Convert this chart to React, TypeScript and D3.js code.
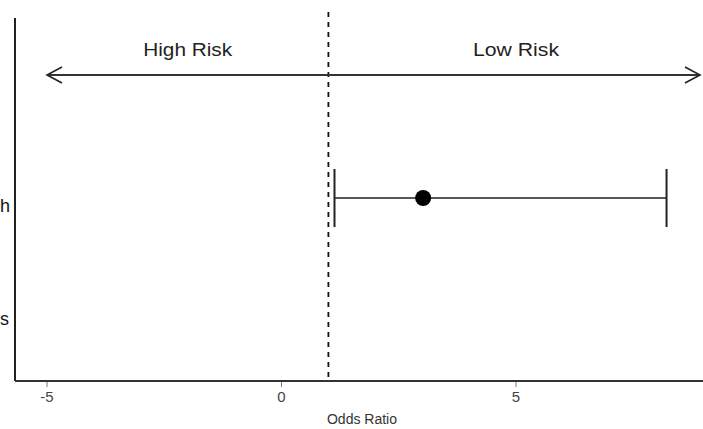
import * as d3 from "d3"
import React, { useRef, useEffect } from 'react';

// forest plot data
const categories = ["h", "s"];
const estimates = [3.02, NaN];
const lowers = [1.13, NaN];
const uppers = [8.21, NaN];
const xTicks = [-5, 0, 5];
const refLine = 1;
const riskLabels = ["High Risk", "Low Risk"];
const riskCenters = [-2, 5];

const App: React.FC = () => {
    const svgRef = useRef<SVGSVGElement | null>(null);
    useEffect(() => {
        const width = 703;
        const height = 429;
        const l = 15;
        const t = 18;
        const b = 381;
        const svg = d3.select(svgRef.current).attr('width', width).attr('height', height);
        svg.selectAll('*').remove();
        svg.append('rect').attr('width', width).attr('height', height).attr('fill', '#fff');

        const x = d3.scaleLinear().domain([-5, 5]).range([47, 516]);
        const y = d3.scalePoint().domain(categories).range([205, 318]);
        const font = 'Liberation Sans, Arial, sans-serif';

        // axes
        svg.append('line').attr('x1', l).attr('x2', l).attr('y1', t).attr('y2', b)
            .attr('stroke', '#222').attr('stroke-width', 2);
        svg.append('line').attr('x1', l).attr('x2', width).attr('y1', b).attr('y2', b)
            .attr('stroke', '#333').attr('stroke-width', 2);

        const ticks = svg.append('g');
        ticks.selectAll('line').data(xTicks).enter().append('line')
            .attr('x1', (d) => x(d)).attr('x2', (d) => x(d))
            .attr('y1', b + 1).attr('y2', b + 6).attr('stroke', '#777');
        ticks.selectAll('text').data(xTicks).enter().append('text')
            .attr('x', (d) => x(d)).attr('y', b + 21)
            .attr('text-anchor', 'middle').attr('font-family', font)
            .attr('font-size', 15).attr('fill', '#444').text((d) => d);
        svg.append('text').attr('x', 362).attr('y', 424).attr('text-anchor', 'middle')
            .attr('font-family', font).attr('font-size', 14).attr('fill', '#333').text('Odds Ratio');

        // category labels
        svg.append('g').selectAll('text').data(categories).enter().append('text')
            .attr('x', 0).attr('y', (d) => y(d)! + 7)
            .attr('font-family', font).attr('font-size', 18).attr('fill', '#111').text((d) => d);

        // reference line
        svg.append('line').attr('x1', x(refLine)).attr('x2', x(refLine)).attr('y1', 12).attr('y2', b)
            .attr('stroke', '#111').attr('stroke-width', 1.8).attr('stroke-dasharray', '5,5');

        // risk arrow
        const ay = 75;
        const x0 = x(-5);
        const x1 = width - 3;
        svg.append('line').attr('x1', x0).attr('x2', x1).attr('y1', ay).attr('y2', ay)
            .attr('stroke', '#333').attr('stroke-width', 2);
        svg.append('path').attr('d', `M${x0 + 15},${ay - 8} L${x0},${ay} L${x0 + 15},${ay + 8}`)
            .attr('fill', 'none').attr('stroke', '#222').attr('stroke-width', 1.6);
        svg.append('path').attr('d', `M${x1 - 15},${ay - 8} L${x1},${ay} L${x1 - 15},${ay + 8}`)
            .attr('fill', 'none').attr('stroke', '#222').attr('stroke-width', 1.6);
        const lens = [89, 86];
        svg.append('g').selectAll('text').data(riskLabels).enter().append('text')
            .attr('x', (d, i) => x(riskCenters[i])).attr('y', 56).attr('text-anchor', 'middle')
            .attr('textLength', (d, i) => lens[i]).attr('lengthAdjust', 'spacingAndGlyphs')
            .attr('font-family', font).attr('font-size', 18).attr('fill', '#222').text((d) => d);

        // error bars and points
        const rows = categories.map((c, i) => ({ c, est: estimates[i], lo: lowers[i], hi: uppers[i] }))
            .filter((d) => !isNaN(d.est));
        const g = svg.append('g');
        rows.forEach((d) => {
            const yy = y(d.c)! - 7;
            g.append('line').attr('x1', x(d.lo)).attr('x2', x(d.hi)).attr('y1', yy).attr('y2', yy)
                .attr('stroke', '#222').attr('stroke-width', 1.6);
            [d.lo, d.hi].forEach((v) => {
                g.append('line').attr('x1', x(v)).attr('x2', x(v)).attr('y1', yy - 29).attr('y2', yy + 29)
                    .attr('stroke', '#222').attr('stroke-width', 2);
            });
            g.append('circle').attr('cx', x(d.est)).attr('cy', yy).attr('r', 8).attr('fill', '#000');
        });
    }, []);
    return <svg ref={svgRef} style={{ position: 'absolute', left: 0, top: 0 }}></svg>;
};

export default App;
